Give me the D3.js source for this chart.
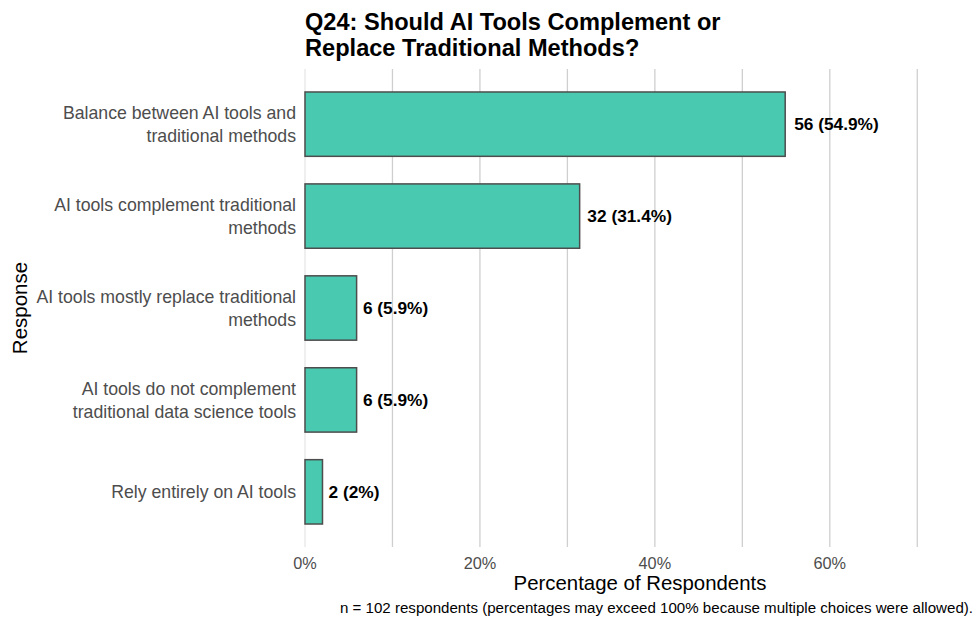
<!DOCTYPE html>
<html>
<head>
<meta charset="utf-8">
<script src="https://cdn.jsdelivr.net/npm/d3@7"></script>
<style>
  html, body { margin: 0; padding: 0; background: #fff; }
  svg { display: block; font-family: "Liberation Sans", Arial, Helvetica, sans-serif; }
</style>
</head>
<body>
<svg id="chart" width="976" height="620"></svg>
<script>
// Survey responses (Q24), top to bottom
const categories = [
  "Balance between AI tools and\ntraditional methods",
  "AI tools complement traditional\nmethods",
  "AI tools mostly replace traditional\nmethods",
  "AI tools do not complement\ntraditional data science tools",
  "Rely entirely on AI tools"
];
const counts = [56, 32, 6, 6, 2];
const percents = [54.9, 31.4, 5.9, 5.9, 2];
const percentLabels = ["54.9%", "31.4%", "5.9%", "5.9%", "2%"];
const majorTicks = [0, 20, 40, 60];
const minorTicks = [10, 30, 50, 70];
const respondents = 102;

const svg = d3.select("#chart");
const margin = { left: 305, right: 1, top: 69, bottom: 73 };
const W = 976, H = 620;

const x = d3.scaleLinear().domain([0, 76.6]).range([margin.left, W - margin.right]);
const y = d3.scaleBand()
  .domain(categories)
  .range([margin.top, H - margin.bottom])
  .paddingInner(0.3)
  .paddingOuter(0.25);

// gridlines
const grid = svg.append("g");
grid.selectAll("line.minor").data(minorTicks).join("line")
  .attr("class", "minor")
  .attr("x1", d => x(d)).attr("x2", d => x(d))
  .attr("y1", margin.top).attr("y2", H - margin.bottom)
  .attr("stroke", "#cfcfcf").attr("stroke-width", 1.3);
grid.selectAll("line.major").data(majorTicks).join("line")
  .attr("class", "major")
  .attr("x1", d => x(d)).attr("x2", d => x(d))
  .attr("y1", margin.top).attr("y2", H - margin.bottom)
  .attr("stroke", d => d === 0 ? "#e6e6e6" : "#cfcfcf").attr("stroke-width", 1.3);

// bars
svg.append("g").selectAll("rect").data(categories).join("rect")
  .attr("x", x(0))
  .attr("y", d => y(d))
  .attr("width", (d, i) => x(percents[i]) - x(0))
  .attr("height", y.bandwidth())
  .attr("fill", "#48c9b0")
  .attr("stroke", "#4d4d4d")
  .attr("stroke-width", 1.5);

// value labels, just past the end of each bar
svg.append("g").selectAll("text").data(categories).join("text")
  .attr("x", (d, i) => x(percents[i]) + 6 + percents[i] * 0.055)
  .attr("y", d => y(d) + y.bandwidth() / 2)
  .attr("dy", "0.35em")
  .attr("font-size", 17.3)
  .attr("font-weight", "bold")
  .attr("fill", "#000")
  .text((d, i) => `${counts[i]} (${percentLabels[i]})`);

// y-axis category labels (multi-line)
const yl = svg.append("g").selectAll("text").data(categories).join("text")
  .attr("text-anchor", "end")
  .attr("font-size", 17.7)
  .attr("fill", "#4d4d4d")
  .attr("x", margin.left - 9)
  .attr("y", d => y(d) + y.bandwidth() / 2);
yl.each(function(d) {
  const lines = d.split("\n");
  const lh = 23;
  const t = d3.select(this);
  lines.forEach((ln, k) => {
    t.append("tspan")
      .attr("x", margin.left - 9)
      .attr("y", y(d) + y.bandwidth() / 2 + (k - (lines.length - 1) / 2) * lh)
      .attr("dy", "0.35em")
      .text(ln);
  });
});

// x-axis tick labels
svg.append("g").selectAll("text").data(majorTicks).join("text")
  .attr("x", d => x(d))
  .attr("y", 569)
  .attr("text-anchor", "middle")
  .attr("font-size", 16.3)
  .attr("fill", "#4d4d4d")
  .text(d => d + "%");

// axis titles
svg.append("text")
  .attr("x", (x.range()[0] + x.range()[1]) / 2)
  .attr("y", 590)
  .attr("text-anchor", "middle")
  .attr("font-size", 20.4)
  .attr("fill", "#000")
  .text("Percentage of Respondents");

svg.append("text")
  .attr("transform", `translate(27, ${(margin.top + H - margin.bottom) / 2}) rotate(-90)`)
  .attr("text-anchor", "middle")
  .attr("font-size", 20.5)
  .attr("fill", "#000")
  .text("Response");

// title
const title = svg.append("text")
  .attr("x", margin.left)
  .attr("font-size", 23.6)
  .attr("font-weight", "bold")
  .attr("fill", "#000");
title.append("tspan").attr("x", margin.left).attr("y", 30).text("Q24: Should AI Tools Complement or");
title.append("tspan").attr("x", margin.left).attr("y", 56).text("Replace Traditional Methods?");

// caption
svg.append("text")
  .attr("x", 973)
  .attr("y", 613)
  .attr("text-anchor", "end")
  .attr("font-size", 15.1)
  .attr("fill", "#000")
  .text(`n = ${respondents} respondents (percentages may exceed 100% because multiple choices were allowed).`);
</script>
</body>
</html>
